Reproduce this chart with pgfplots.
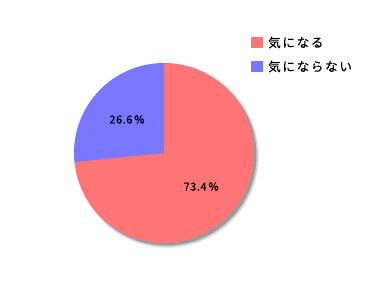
\documentclass[border=0pt]{standalone}
\usepackage{pgfplots}
\usepackage{pgfplotstable}
\usepackage{fontspec}
\usetikzlibrary{calc}
\pgfplotsset{compat=1.18}
\newfontfamily\jp[LetterSpace=14, FakeBold=0.4]{Noto Sans CJK JP}
\newfontfamily\jpn[FakeBold=0.4, LetterSpace=5]{Noto Sans CJK JP}
\definecolor{pred}{RGB}{255,117,117}
\definecolor{pblue}{RGB}{119,119,255}
\pgfplotstableread{
label value
A 73.4
B 26.6
}\piedata
\begin{document}
\begin{tikzpicture}
\begin{axis}[scale only axis, width=384pt, height=288pt,
  xmin=0, xmax=384, ymin=0, ymax=288, hide axis, clip=false]
\path (axis cs:0,0) rectangle (axis cs:384,288);
\pgfplotstablegetelem{0}{value}\of\piedata \let\va\pgfplotsretval
\pgfplotstablegetelem{1}{value}\of\piedata \let\vb\pgfplotsretval
\pgfmathsetmacro\angA{90-3.6*\va}
\pgfmathsetmacro\angB{90+3.6*\vb}
\pgfmathsetmacro\midA{90-1.8*\va}
\pgfmathsetmacro\midB{90+1.8*\vb}
% shadow
\fill[black, opacity=0.08] (axis cs:167,132) circle[radius=92pt];
\fill[black, opacity=0.12] (axis cs:167,132) circle[radius=91pt];
\fill[black, opacity=0.25] (axis cs:166.5,132.5) circle[radius=90pt];
% wedges
\fill[pred] (axis cs:164,135) -- ++(90:90pt) arc[start angle=90, end angle=\angA, radius=90pt] -- cycle;
\fill[pblue] (axis cs:164,135) -- ++(90:90pt) arc[start angle=90, end angle=\angB, radius=90pt] -- cycle;
% labels
\node[font=\jpn\fontsize{11}{12}\selectfont] at ($(axis cs:164,135)+(\midA:50pt)$) {\va\,\%};
\node[font=\jpn\fontsize{11}{12}\selectfont] at ($(axis cs:164,135)+(\midB:50pt)$) {\vb\,\%};
% legend
\fill[pred] (axis cs:251,240) rectangle (axis cs:263,251);
\fill[pblue] (axis cs:251,216) rectangle (axis cs:263,227);
\node[anchor=west, inner sep=0pt, font=\jp\fontsize{12.5}{14}\selectfont] at (axis cs:268,245.5) {気になる};
\node[anchor=west, inner sep=0pt, font=\jp\fontsize{12.5}{14}\selectfont] at (axis cs:268,221.5) {気にならない};
\end{axis}
\end{tikzpicture}
\end{document}
